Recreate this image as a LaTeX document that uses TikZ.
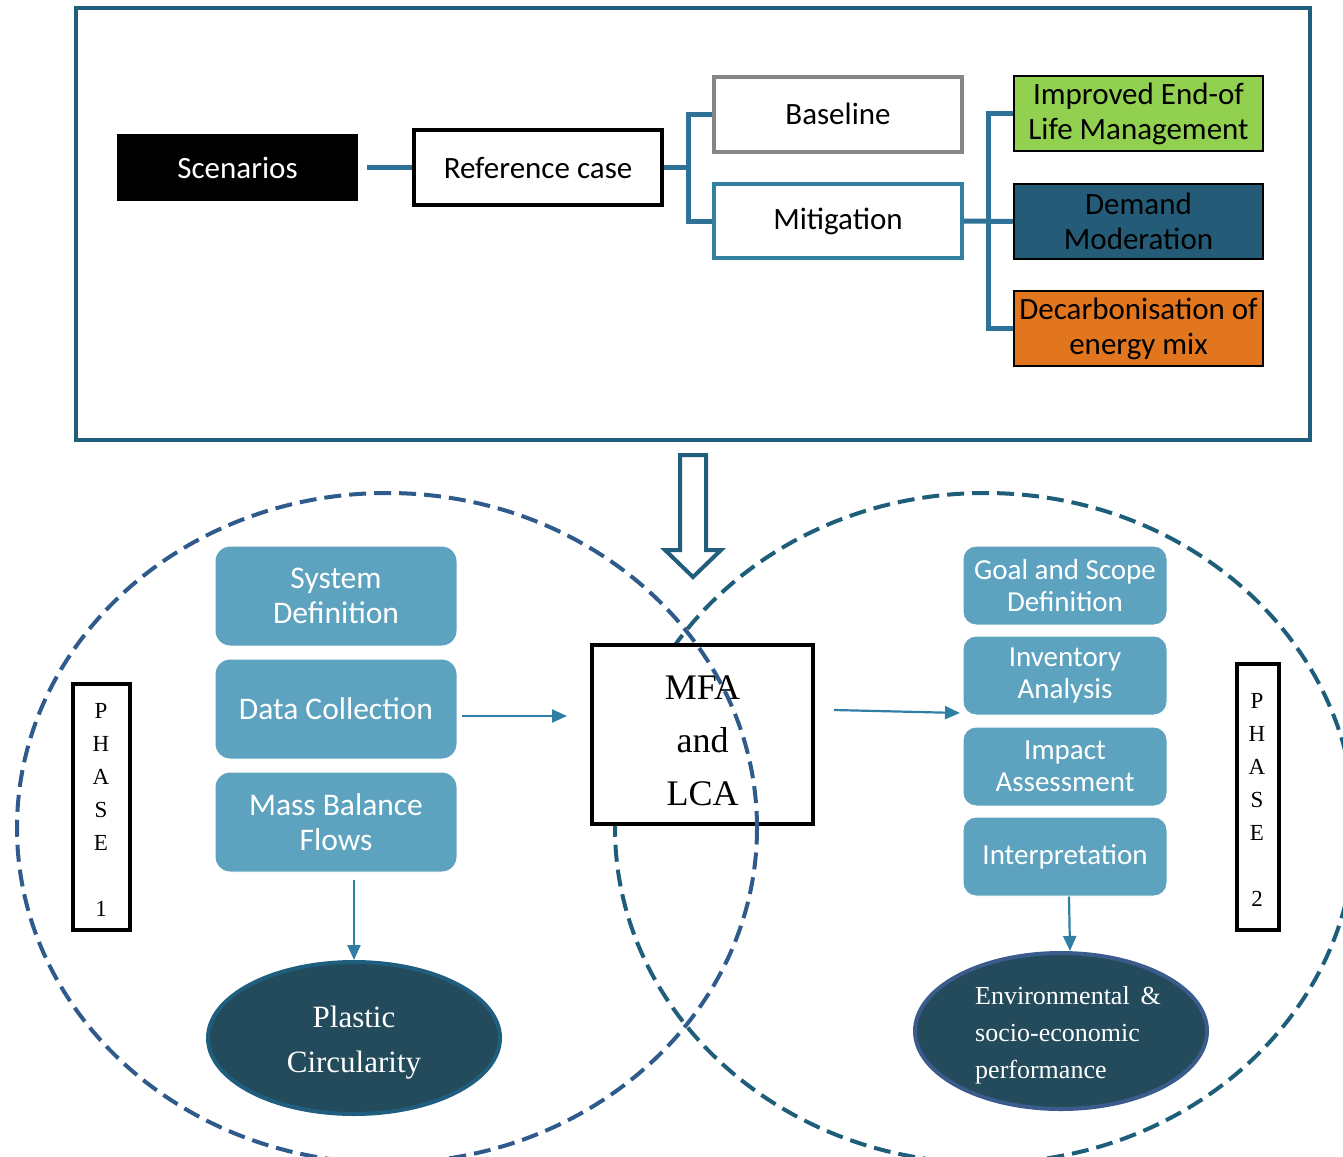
\documentclass[tikz,border=0pt]{standalone}
\usepackage{fontspec}
\setmainfont{Liberation Serif}
\newfontfamily\calibri{Carlito}
\usetikzlibrary{shapes.geometric,arrows.meta}
\definecolor{frameC}{HTML}{215E7C}
\definecolor{connC}{HTML}{2E7397}
\definecolor{mitC}{HTML}{31809F}
\definecolor{boxC}{HTML}{5DA3BF}
\definecolor{darkC}{HTML}{234B5C}
\definecolor{plasC}{HTML}{1F5E7F}
\definecolor{envC}{HTML}{3B5B8C}
\definecolor{dashL}{HTML}{2F5A8C}
\definecolor{dashR}{HTML}{1F5E7A}
\definecolor{demC}{HTML}{245C78}
\definecolor{greenC}{HTML}{92D050}
\definecolor{orangeC}{HTML}{E2761E}
\definecolor{arrC}{HTML}{2F7FA5}
\newcommand\fsz[2]{\fontsize{#1}{#2}\selectfont}
\tikzset{
  topbox/.style={draw, line width=4pt, minimum width=248pt, minimum height=75pt, inner sep=0pt, align=center, font=\calibri\fsz{31}{35}},
  optbox/.style={draw=black, line width=2.5pt, minimum width=249pt, minimum height=75pt, inner sep=0pt, align=center, font=\calibri\fsz{31}{35}},
  conn/.style={draw=connC, line width=5pt},
  lbox/.style={fill=boxC, draw=white, line width=1pt, rounded corners=15pt, minimum width=242pt, minimum height=100pt, inner sep=0pt, align=center, text=white, font=\calibri\fsz{31.5}{35}},
  rbox/.style={fill=boxC, draw=white, line width=1pt, rounded corners=13pt, minimum width=204pt, minimum height=79pt, inner sep=0pt, align=center, text=white, font=\calibri\fsz{29}{32}},
  phasebox/.style={draw=black, line width=4pt, inner sep=0pt},
  phasetxt/.style={inner sep=0pt, align=center, font=\fsz{23}{33}},
  sarrow/.style={draw=arrC, line width=2.2pt, -{Triangle[length=15pt,width=13pt]}},
  bigdash/.style={line width=4pt, dash pattern=on 17pt off 8pt},
  darkell/.style={ellipse, fill=darkC, line width=4pt, inner sep=0pt},
  elltxt/.style={inner sep=0pt, text=white}
}
\begin{document}
\begin{tikzpicture}[x=1pt,y=-1pt]
\useasboundingbox (0,0) rectangle (1343,1156);
\clip (0,0) rectangle (1343,1156);
% top frame
\node[draw=frameC, line width=4pt, minimum width=1234pt, minimum height=432pt, inner sep=0pt] (frame) at (693,224) {};
% scenario tree
\node[fill=black, minimum width=241pt, minimum height=67pt, inner sep=0pt, text=white, font=\calibri\fsz{31}{35}] (scen) at (237.5,167.5) {Scenarios};
\node[topbox, draw=black] (ref) at (538,167.5) {Reference case};
\node[topbox, draw=gray!95] (base) at (838,114) {Baseline};
\node[topbox, draw=mitC, minimum height=74pt] (mit) at (838,221) {Mitigation};
\node[optbox, fill=greenC] (imp) at (1138.5,113.5) {Improved End-of\\Life Management};
\node[optbox, fill=demC] (dem) at (1138.5,221.5) {Demand\\Moderation};
\node[optbox, fill=orangeC] (dec) at (1138.5,328.5) {Decarbonisation of\\energy mix};
\coordinate (j1) at (688,167.5);
\coordinate (j2) at (988,221.5);
\draw[conn, shorten <=9pt] (scen.east) -- (ref.west);
\draw[conn] (ref.east) -- (j1);
\draw[conn] (base.west) -| (j1) |- (mit.west);
\draw[conn] (mit.east) -- (dem.west);
\draw[conn] (imp.west) -| (j2) |- (dec.west);
% right dashed ellipse
\draw[bigdash, draw=dashR] (985,828) ellipse [x radius=370pt, y radius=335pt];
% MFA box
\node[draw=black, fill=white, line width=4pt, minimum width=221pt, minimum height=179pt, inner sep=0pt] (mfa) at (702.5,734.5) {};
\node[inner sep=0pt, align=center, font=\fsz{36}{53}] (mfatxt) at (702.5,740.5) {MFA\\and\\LCA};
% left dashed ellipse
\draw[bigdash, draw=dashL] (387,828) ellipse [x radius=370pt, y radius=335pt];
% big hollow arrow
\draw[draw=frameC, fill=white, line width=4pt, line join=miter] (680,455) -- (706,455) -- (706,550) -- (721,550) -- (693,577) -- (665,550) -- (680,550) -- cycle;
% left boxes
\node[lbox] (sys) at (336,596) {System\\Definition};
\node[lbox] (data) at (336,709) {Data Collection};
\node[lbox] (mass) at (336,822) {Mass Balance\\Flows};
% right boxes
\node[rbox] (goal) at (1065,585.5) {Goal and Scope\\Definition};
\node[rbox] (inv) at (1065,675.5) {Inventory\\Analysis};
\node[rbox] (imp2) at (1065,766.5) {Impact\\Assessment};
\node[rbox] (interp) at (1065,856.5) {Interpretation};
% phase boxes
\node[phasebox, minimum width=57pt, minimum height=246pt] (ph1) at (101.5,807) {};
\node[phasetxt] (ph1t) at (101,810) {P\\H\\A\\S\\E\\\mbox{}\\1};
\node[phasebox, minimum width=42pt, minimum height=266pt] (ph2) at (1258,797) {};
\node[phasetxt] (ph2t) at (1257,800) {P\\H\\A\\S\\E\\\mbox{}\\2};
% result ellipses
\node[darkell, draw=plasC, minimum width=292pt, minimum height=152pt] (plas) at (354,1038) {};
\node[elltxt, align=center, font=\fsz{31}{45}] (plast) at (354,1043) {Plastic\\Circularity};
\node[darkell, draw=envC, minimum width=292pt, minimum height=156pt] (env) at (1061,1031) {};
\node[elltxt, align=left, font=\fsz{26}{37}, anchor=west] (envt) at (975,1035) {Environmental \,\&\\socio-economic\\performance};
% small arrows
\coordinate (a1s) at (462,716);
\coordinate (a1e) at (567,716);
\coordinate (a2s) at (834,710);
\coordinate (a2e) at (960,713);
\draw[sarrow] (a1s) -- (a1e);
\draw[sarrow] (a2s) -- (a2e);
\draw[sarrow] ([yshift=-7pt]mass.south -| plas.north) -- (plas.north);
\draw[sarrow] ([xshift=4pt]interp.south) -- ([xshift=9pt]env.north);
\end{tikzpicture}
\end{document}
